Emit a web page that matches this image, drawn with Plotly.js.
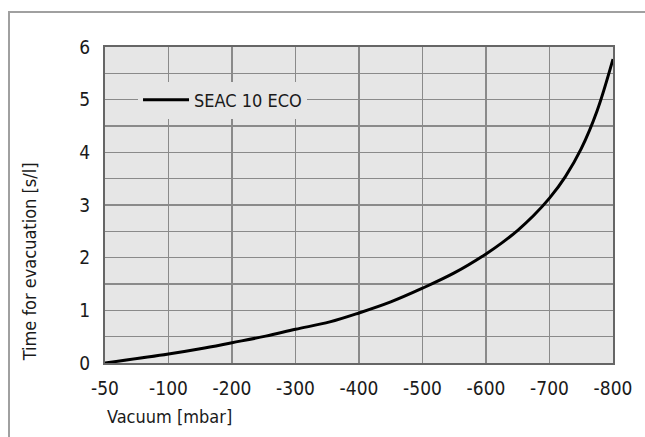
<!DOCTYPE html>
<html>
<head>
<meta charset="utf-8">
<script src="https://cdn.plot.ly/plotly-3.0.1.min.js"></script>
<style>
  html, body { margin: 0; padding: 0; background: #ffffff; }
  #chart { width: 645px; height: 437px; position: absolute; left: 0; top: 0; }
  #frame { position: absolute; left: 8px; top: 11px; width: 645px; height: 440px;
           border-left: 2px solid #a0a0a0; border-top: 2px solid #a0a0a0; pointer-events: none; }
</style>
</head>
<body>
<div id="chart"></div>
<div id="frame"></div>
<script>
// Tick labels of the vacuum axis (evenly spaced on the drawing)
const tickLabels = ['-50', '-100', '-200', '-300', '-400', '-500', '-600', '-700', '-800'];
const tickVacuum = [-50, -100, -200, -300, -400, -500, -600, -700, -800];

// Curve: vacuum [mbar] and time for evacuation [s/l]
const vacuum   = [-50, -100, -150, -200, -253, -300, -354, -400, -450, -500, -550, -600, -625, -650, -675, -700, -725, -750, -775, -800];
const timeEvac = [0.0, 0.17, 0.27, 0.385, 0.51, 0.64, 0.78, 0.95, 1.16, 1.42, 1.71, 2.07, 2.28, 2.52, 2.80, 3.13, 3.54, 4.07, 4.79, 5.77];

const seriesName = 'SEAC 10 ECO';
const xTitle = 'Vacuum [mbar]';
const yTitle = 'Time for evacuation [s/l]';

// The drawing's axis places -50, -100, -200 ... -800 at equal steps:
// piecewise linear position between the labelled ticks.
function axisPos(v) {
  for (let i = 0; i < tickVacuum.length - 1; i++) {
    const a = tickVacuum[i], b = tickVacuum[i + 1];
    if (v <= a && v >= b) return i + (a - v) / (a - b);
  }
  return v > tickVacuum[0] ? 0 : tickVacuum.length - 1;
}
const xPos = vacuum.map(axisPos);
const tickPos = tickVacuum.map(axisPos);

const FONT = '"DejaVu Sans Condensed", "DejaVu Sans", sans-serif';
const gridCol = '#8a8a8a';
const txtCol = '#1a1a1a';

const trace = {
  x: xPos, y: timeEvac, type: 'scatter', mode: 'lines', name: seriesName,
  line: { color: '#000000', width: 3, shape: 'spline', smoothing: 1 },
  showlegend: true, hoverinfo: 'skip'
};

const layout = {
  width: 645, height: 437,
  margin: { l: 105, r: 32, t: 47, b: 74 },
  paper_bgcolor: 'rgba(0,0,0,0)',
  plot_bgcolor: '#e6e6e6',
  font: { family: FONT, size: 19, color: txtCol },
  showlegend: true,
  legend: {
    x: 0.065, y: 0.832, xanchor: 'left', yanchor: 'middle',
    bgcolor: '#e6e6e6', borderwidth: 0, itemwidth: 46,
    font: { family: FONT, size: 18, color: txtCol }
  },
  xaxis: {
    range: [0, tickPos[tickPos.length - 1]],
    tickmode: 'array', tickvals: tickPos, ticktext: tickLabels,
    tickfont: { family: FONT, size: 19, color: txtCol },
    showgrid: true, gridcolor: gridCol, gridwidth: 1.6,
    zeroline: false, showline: true, linecolor: '#666666', linewidth: 2, mirror: true,
    ticks: '', ticklabelstandoff: 7, fixedrange: true
  },
  yaxis: {
    range: [0, 6], tickmode: 'linear', tick0: 0, dtick: 1,
    tickfont: { family: FONT, size: 19, color: txtCol },
    showgrid: true, gridcolor: gridCol, gridwidth: 1.6,
    minor: { dtick: 0.5, showgrid: true, gridcolor: gridCol, gridwidth: 1.6 },
    zeroline: false, showline: true, linecolor: '#666666', linewidth: 2, mirror: true,
    ticks: '', ticklabelstandoff: 9, fixedrange: true
  },
  annotations: [
    { text: xTitle, xref: 'paper', yref: 'paper', x: 0, y: -0.168,
      xanchor: 'left', yanchor: 'middle', showarrow: false,
      font: { family: FONT, size: 18, color: txtCol } },
    { text: yTitle, xref: 'paper', yref: 'paper', x: -0.148, y: 0,
      xanchor: 'center', yanchor: 'bottom', textangle: -90, showarrow: false,
      font: { family: FONT, size: 18, color: txtCol } }
  ]
};

Plotly.newPlot('chart', [trace], layout, { displayModeBar: false, staticPlot: true });
</script>
</body>
</html>
